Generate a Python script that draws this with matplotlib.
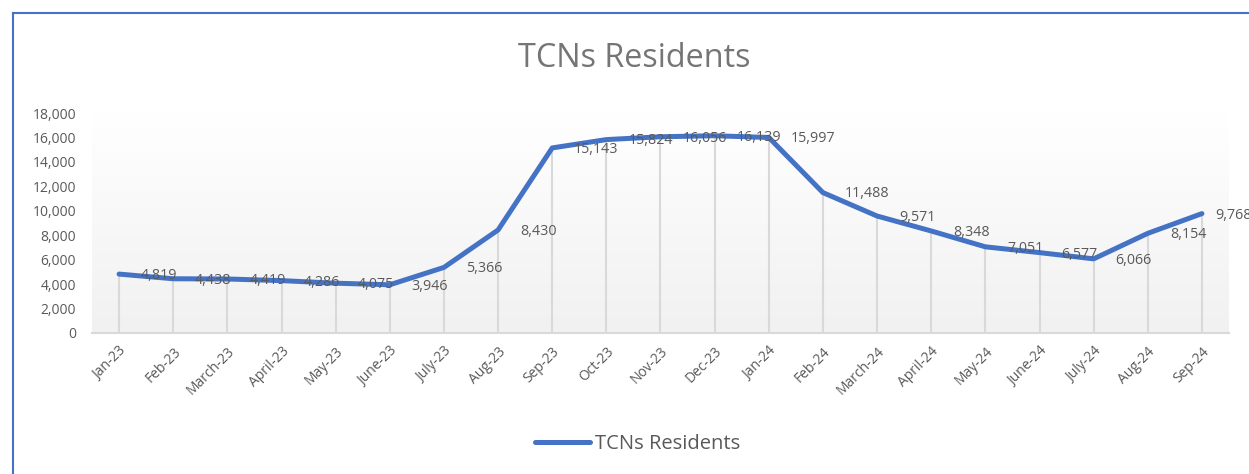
import numpy as np
import matplotlib
matplotlib.use("Agg")
import matplotlib.pyplot as plt
from matplotlib.lines import Line2D
from matplotlib.ticker import FuncFormatter

months = ["Jan-23", "Feb-23", "March-23", "April-23", "May-23", "June-23", "July-23",
          "Aug-23", "Sep-23", "Oct-23", "Nov-23", "Dec-23", "Jan-24", "Feb-24",
          "March-24", "April-24", "May-24", "June-24", "July-24", "Aug-24", "Sep-24"]
residents = [4819, 4438, 4419, 4286, 4075, 3946, 5366, 8430, 15143, 15824, 16056,
             16139, 15997, 11488, 9571, 8348, 7051, 6577, 6066, 8154, 9768]
series_name = "TCNs Residents"
chart_title = "TCNs Residents"
y_ticks = list(range(0, 18001, 2000))

plt.rcParams['font.family'] = ['Open Sans', 'DejaVu Sans']
TXT = '#595959'
BLUE = '#4472C4'

W, H = 1249, 474
fig = plt.figure(figsize=(W / 100, H / 100), dpi=100)
fig.patch.set_facecolor('white')

left, right, top, bottom = 92, 1229, 113, 333
ax = fig.add_axes([left / W, (H - bottom) / H, (right - left) / W, (bottom - top) / H])

# gradient plot-area background
g = np.linspace(1.0, 0.945, 256)
grad = np.stack([g, g, g], axis=-1)[:, None, :]
ax.imshow(grad, extent=[0, 1, 0, 1], transform=ax.transAxes, aspect='auto', zorder=0,
          interpolation='bilinear')

x = np.arange(len(months))
ax.vlines(x, 0, residents, color='#d9d9d9', lw=1.5, zorder=1)
ax.plot(x, residents, color=BLUE, lw=3.6, solid_joinstyle='round',
        solid_capstyle='round', zorder=3, label=series_name)

for i, v in enumerate(residents):
    off = 13 if i == len(residents) - 1 else 22
    ax.annotate(f"{v:,}", (i, v), xytext=(off * 0.72, -1), textcoords='offset points',
                ha='left', va='center', fontsize=10.3, color=TXT, zorder=4,
                annotation_clip=False)

ax.set_xlim(-0.5, len(months) - 0.5)
ax.set_ylim(0, 18000)
ax.set_yticks(y_ticks)
ax.yaxis.set_major_formatter(FuncFormatter(lambda v, p: f"{int(v):,}"))
ax.set_xticks(x)
ax.set_xticklabels(months, rotation=45, ha='right', va='top', rotation_mode='anchor')
ax.tick_params(axis='y', length=0, pad=11.5, labelsize=10, labelcolor=TXT)
ax.tick_params(axis='x', length=0, pad=8, labelsize=10, labelcolor=TXT)
for s in ['left', 'right', 'top']:
    ax.spines[s].set_visible(False)
ax.spines['bottom'].set_color('#d9d9d9')
ax.spines['bottom'].set_linewidth(1.5)
ax.spines['bottom'].set_zorder(2)

fig.text(634 / W, 1 - 67 / H, chart_title, ha='center', va='baseline',
         fontsize=23.3, color='#757575')

leg = ax.legend(loc='center', bbox_to_anchor=(638 / W, 1 - 444 / H),
                bbox_transform=fig.transFigure, frameon=False, fontsize=14.5,
                handlelength=2.73, handletextpad=0.25)
for t in leg.get_texts():
    t.set_color(TXT)

# outer blue frame (left and top edges visible)
fig.add_artist(Line2D([12.5 / W, 12.5 / W], [0, 1 - 12.5 / H], transform=fig.transFigure,
                      color=BLUE, lw=1.5))
fig.add_artist(Line2D([12.5 / W, 1], [1 - 12.5 / H, 1 - 12.5 / H], transform=fig.transFigure,
                      color=BLUE, lw=1.5))

fig.savefig("out.png", dpi=100)
